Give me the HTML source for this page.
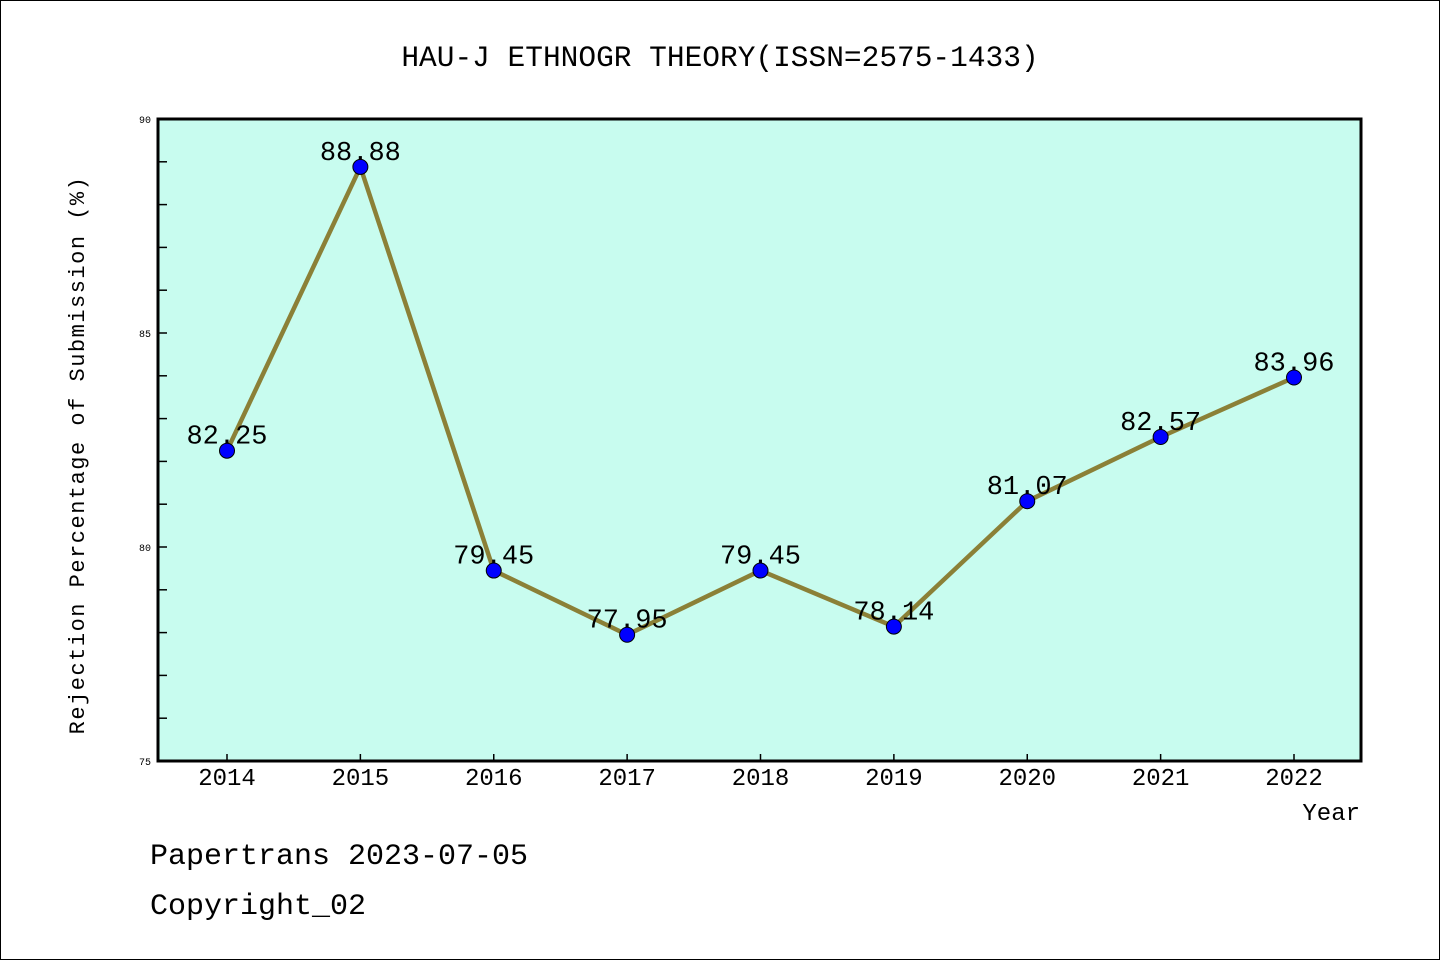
<!DOCTYPE html>
<html><head><meta charset="utf-8"><style>
html,body{margin:0;padding:0;background:#fff}
svg{display:block}
text{font-family:"Liberation Mono",monospace}
</style></head><body>
<svg id="chart" width="1440" height="960" xmlns="http://www.w3.org/2000/svg">
<rect x="0.5" y="0.5" width="1439" height="959" fill="#fff" stroke="#000" stroke-width="1"/>
<text x="720" y="66" font-size="29.5" text-anchor="middle">HAU-J ETHNOGR THEORY(ISSN=2575-1433)</text>
<rect x="158" y="119" width="1203" height="642" fill="#c8fcef"/>
<g id="yaxis"></g>
<g id="xaxis"></g>
<g id="series"></g>
<rect x="158" y="119" width="1203" height="642" fill="none" stroke="#000" stroke-width="3"/>
<text transform="translate(84,455) rotate(-90)" font-size="22" text-anchor="middle" letter-spacing="1.5">Rejection Percentage of Submission (%)</text>
<text x="1360" y="820" font-size="24" text-anchor="end">Year</text>
<text x="150" y="864" font-size="30">Papertrans 2023-07-05</text>
<text x="150" y="914" font-size="30">Copyright_02</text>
</svg>
<script>
const years = ['2014','2015','2016','2017','2018','2019','2020','2021','2022'];
const values = [82.25, 88.88, 79.45, 77.95, 79.45, 78.14, 81.07, 82.57, 83.96];
const labels = ['82.25','88.88','79.45','77.95','79.45','78.14','81.07','82.57','83.96'];
const yTicks = [75, 80, 85, 90];
const NS='http://www.w3.org/2000/svg';
const x0=227, dx=(1294-227)/8;
function xs(i){return x0+i*dx;}
function ys(v){return 761-(v-75)*(642/15);}
function mk(tag,attrs,parent){const e=document.createElementNS(NS,tag);for(const k in attrs)e.setAttribute(k,attrs[k]);parent.appendChild(e);return e;}
const ya=document.getElementById('yaxis'), xa=document.getElementById('xaxis'), sg=document.getElementById('series');
for(let v=75;v<=90;v++){
  const t=mk('line',{x1:158,x2:167,y1:ys(v),y2:ys(v),stroke:'#000','stroke-width':1.5},ya);
  
  
}
yTicks.forEach(v=>{
  const t=mk('text',{x:151,y:ys(v)+4,'font-size':10,'text-anchor':'end'},ya);
  t.textContent=v;
  
  
});
years.forEach((y,i)=>{
  const t=mk('line',{x1:xs(i),x2:xs(i),y1:761,y2:754,stroke:'#000','stroke-width':1.5},xa);
  
  
  const l=mk('text',{x:xs(i),y:785,'font-size':24,'text-anchor':'middle'},xa);
  l.textContent=y;
  
  
});
const pts=values.map((v,i)=>xs(i)+','+ys(v)).join(' ');
const line=mk('polyline',{points:pts,fill:'none',stroke:'#8b8037','stroke-width':4.5,'stroke-linejoin':'round'},sg);


values.forEach((v,i)=>{
  const c=mk('circle',{cx:xs(i),cy:ys(v),r:7.5,fill:'#0000ff',stroke:'#000','stroke-width':1},sg);
  
  
  const t=mk('text',{x:xs(i),y:ys(v)-7,'font-size':27,'text-anchor':'middle'},sg);
  t.textContent=labels[i];
  
  
});
</script>
</body></html>
